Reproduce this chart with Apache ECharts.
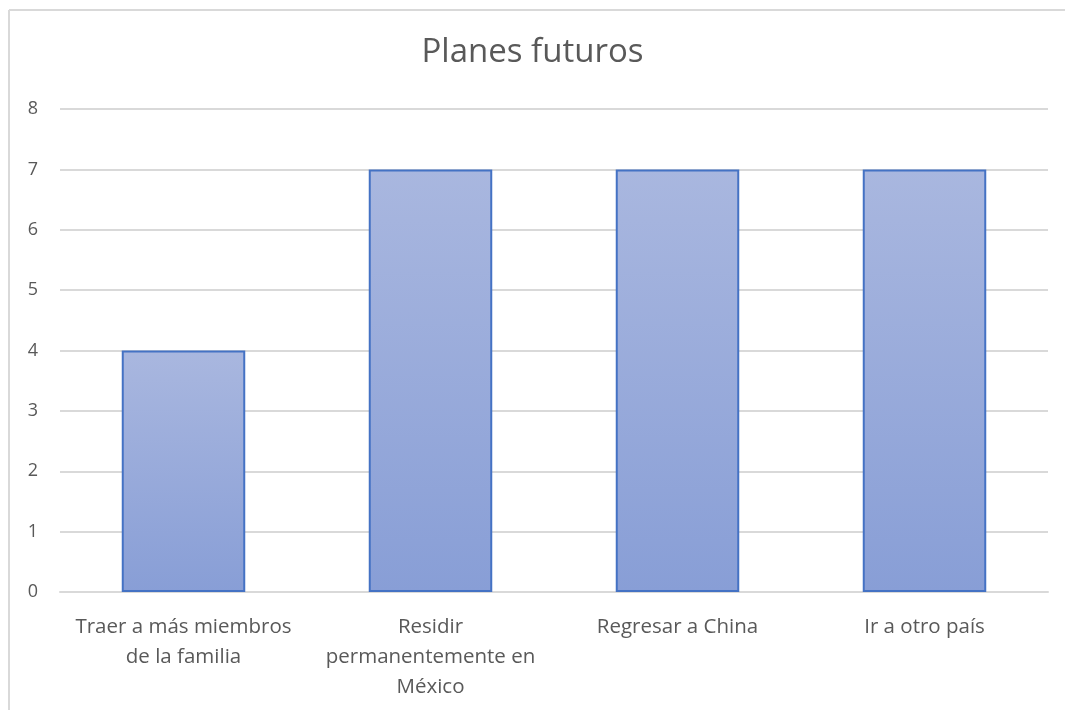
<!DOCTYPE html>
<html>
<head>
<meta charset="utf-8">
<script src="https://cdn.jsdelivr.net/npm/echarts@6/dist/echarts.min.js"></script>
<style>
  html, body { margin: 0; padding: 0; background: #fff; }
  #chart { width: 1065px; height: 710px; }
</style>
</head>
<body>
<div id="chart"></div>
<script>
// Planes futuros: number of responses per plan
const categories = [
  'Traer a más miembros\nde la familia',
  'Residir\npermanentemente en\nMéxico',
  'Regresar a China',
  'Ir a otro país'
];
const values = [4, 7, 7, 7];
const yTicks = { min: 0, max: 8, interval: 1 };

const textColor = '#595959';
const gridColor = '#D9D9D9';
const fontFamily = '"Open Sans", "Noto Sans", sans-serif';

const chart = echarts.init(document.getElementById('chart'));
chart.setOption({
  backgroundColor: '#fff',
  animation: false,
  title: {
    text: 'Planes futuros',
    left: 'center',
    top: 31,
    textStyle: { color: textColor, fontSize: 33, fontWeight: 'normal', fontFamily: fontFamily }
  },
  graphic: [
    { type: 'line', shape: { x1: 9, y1: 10, x2: 1065, y2: 10 }, style: { stroke: gridColor, lineWidth: 2 } },
    { type: 'line', shape: { x1: 9, y1: 10, x2: 9, y2: 710 }, style: { stroke: gridColor, lineWidth: 2 } }
  ],
  grid: { left: 60, right: 17, top: 109, bottom: 118, containLabel: false },
  xAxis: {
    type: 'category',
    data: categories,
    axisLine: { show: true, lineStyle: { color: gridColor, width: 2 } },
    axisTick: { show: false },
    axisLabel: {
      color: textColor, fontSize: 20.5, fontFamily: fontFamily,
      lineHeight: 30, margin: 20, interval: 0
    }
  },
  yAxis: {
    type: 'value',
    min: yTicks.min, max: yTicks.max, interval: yTicks.interval,
    axisLine: { show: false },
    axisTick: { show: false },
    splitLine: { lineStyle: { color: gridColor, width: 2 } },
    axisLabel: { color: textColor, fontSize: 18, fontFamily: fontFamily, margin: 22 }
  },
  series: [{
    type: 'bar',
    data: values,
    barWidth: '50%',
    itemStyle: {
      color: new echarts.graphic.LinearGradient(0, 0, 0, 1, [
        { offset: 0, color: '#A9B7DF' },
        { offset: 1, color: '#889ED6' }
      ]),
      borderColor: '#4472C4',
      borderWidth: 2
    }
  }]
});
</script>
</body>
</html>
